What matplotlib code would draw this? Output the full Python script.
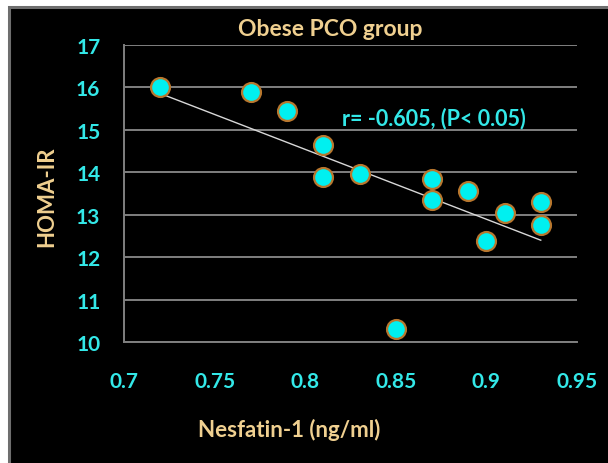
import numpy as np
import matplotlib.pyplot as plt
from matplotlib.patches import Rectangle

# data
nesfatin = [0.72, 0.77, 0.79, 0.81, 0.81, 0.83, 0.87, 0.87, 0.89, 0.91, 0.90, 0.93, 0.93, 0.85]
homa_ir = [16.0, 15.9, 15.45, 14.65, 13.88, 13.95, 13.85, 13.35, 13.55, 13.05, 12.38, 13.3, 12.75, 10.3]
x_ticks = [0.7, 0.75, 0.8, 0.85, 0.9, 0.95]
x_tick_labels = ['0.7', '0.75', '0.8', '0.85', '0.9', '0.95']
y_ticks = [10, 11, 12, 13, 14, 15, 16, 17]

cyan = '#33e8e8'
tan = '#f0d090'
grid_grey = '#808080'

plt.rcParams['font.family'] = ['Lato', 'DejaVu Sans']


def main():
    fig = plt.figure(figsize=(6.08, 4.64), dpi=100, facecolor='white')
    # black panel with grey frame
    fig.patches.append(Rectangle((8.5 / 608, -0.05), 1.0, 1.05 - 7.5 / 464, transform=fig.transFigure,
                                 facecolor='black', edgecolor='#6e6e6e', linewidth=2.2, zorder=-10))

    ax = fig.add_axes([124 / 608, 1 - 343 / 464, (577 - 124) / 608, (343 - 46) / 464])
    ax.set_facecolor('black')

    # trend line
    xs = np.array(nesfatin)
    slope, inter = np.polyfit(xs, homa_ir, 1)
    x_line = np.array([xs.min(), xs.max()])
    ax.plot(x_line, slope * x_line + inter, color='#d8d8d8', linewidth=1.0, zorder=3)

    ax.scatter(nesfatin, homa_ir, s=185, facecolor='#00f0f0', edgecolor='#b8772e', linewidth=1.6, zorder=4)

    ax.set_xlim(0.7, 0.95)
    ax.set_ylim(10, 17)
    ax.set_xticks(x_ticks)
    ax.set_xticklabels(x_tick_labels)
    ax.set_yticks(y_ticks)
    ax.tick_params(axis='both', length=0, labelsize=15, labelcolor=cyan)
    ax.tick_params(axis='x', pad=21)
    ax.tick_params(axis='y', pad=17)
    for lab in ax.get_xticklabels() + ax.get_yticklabels():
        lab.set_fontweight('bold')

    ax.yaxis.grid(True, color=grid_grey, linewidth=1.4)
    ax.set_axisbelow(True)
    for side in ['top', 'right']:
        ax.spines[side].set_visible(False)
    ax.spines['left'].set_color(grid_grey)
    ax.spines['left'].set_linewidth(1.4)
    ax.spines['bottom'].set_color(grid_grey)
    ax.spines['bottom'].set_linewidth(1.4)

    ax.text(0.8205, 15.3, 'r= -0.605, (P< 0.05)', color=cyan, fontsize=15.5, fontweight='bold',
            ha='left', va='center', zorder=5)

    fig.text(330 / 608, 1 - 30 / 464, 'Obese PCO group', color=tan, fontsize=16.5, fontweight='bold',
             ha='center', va='center')
    fig.text(289 / 608, 1 - 430 / 464, 'Nesfatin-1 (ng/ml)', color=tan, fontsize=16, fontweight='bold',
             ha='center', va='center')
    fig.text(47 / 608, 1 - 197 / 464, 'HOMA-IR', color=tan, fontsize=16, fontweight='bold',
             ha='center', va='center', rotation=90)

    fig.savefig('out.png', dpi=100, facecolor='white')


if __name__ == '__main__':
    main()
